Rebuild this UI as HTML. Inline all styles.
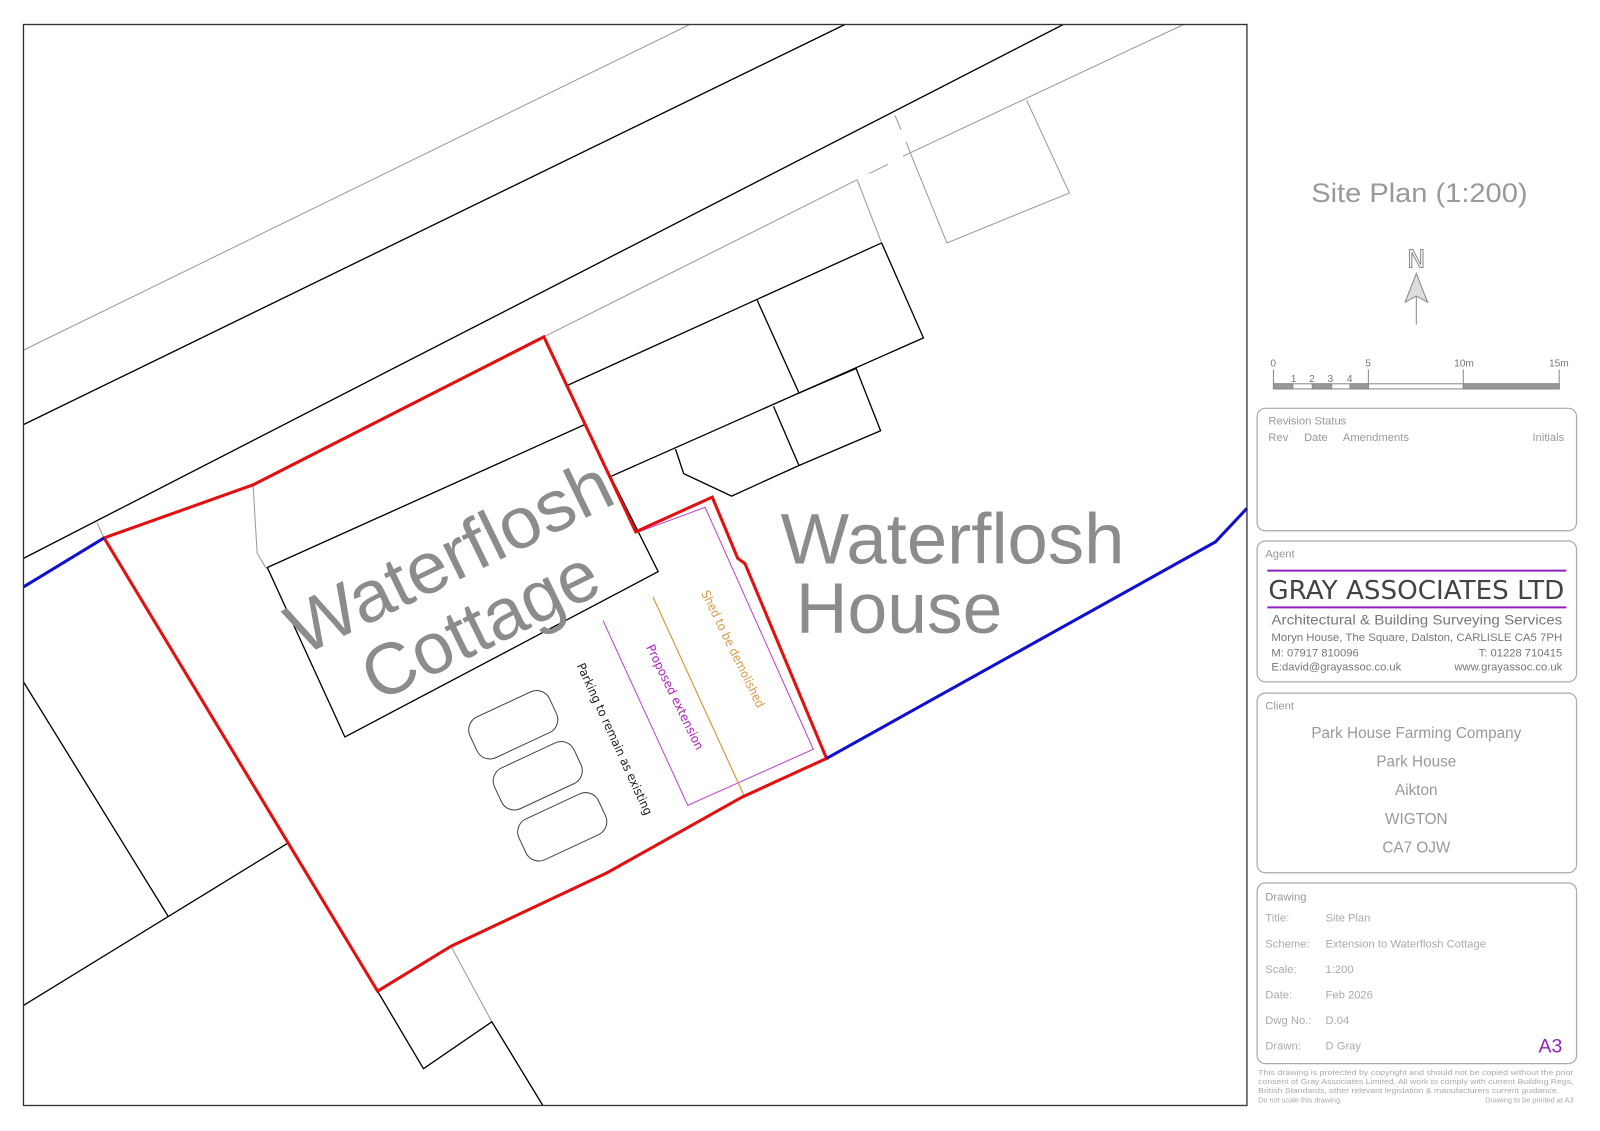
<!DOCTYPE html>
<html><head><meta charset="utf-8"><style>
html,body{margin:0;padding:0;background:#fff;}
svg{display:block;}
text{font-family:"Liberation Sans",sans-serif;}
.dj{font-family:"DejaVu Sans","Liberation Sans",sans-serif;}
</style></head><body>
<svg width="1600" height="1131" viewBox="0 0 1568 1108" preserveAspectRatio="none" xmlns="http://www.w3.org/2000/svg">
<rect x="0" y="0" width="1568" height="1108" fill="#fff"/>
<g stroke="#999" stroke-width="1" fill="none">
<line x1="23" y1="343" x2="676" y2="24"/>
<line x1="535" y1="329" x2="840" y2="176"/>
<line x1="840" y1="176" x2="864" y2="238"/>
<line x1="852" y1="170" x2="870" y2="161" />
<line x1="885" y1="153" x2="1160" y2="24"/>
<polyline points="1006,98 1048,189 928,238 893,152"/>
<line x1="877" y1="113" x2="883" y2="127"/>
<line x1="888" y1="139" x2="893" y2="152"/>
<polyline points="248,475 252,542 261,557"/>
<line x1="95" y1="512" x2="102" y2="527"/>
<line x1="442" y1="927" x2="482" y2="1001"/>
</g>
<g stroke="#000" stroke-width="1.3" fill="none">
<line x1="23" y1="416" x2="828" y2="24"/>
<line x1="23" y1="547" x2="1042" y2="24"/>
<line x1="555" y1="378" x2="864" y2="238"/>
<polyline points="864,238 905,331 783,385"/>
<line x1="742" y1="294" x2="783" y2="385"/>
<polyline points="598,467 783,385 839,361 863,422 783,456 717,486 670,464 662,440"/>
<line x1="758" y1="398" x2="783" y2="456"/>
<polygon points="262,556 573,416 645,560 338,722"/>
<line x1="23" y1="668" x2="165" y2="898"/>
<line x1="23" y1="985" x2="282" y2="826"/>
<polyline points="370,971 415,1047 482,1001 532,1083"/>
</g>
<polyline points="623,522 691,497 797,734 674,789 591,608" fill="none" stroke="#c040d0" stroke-width="1"/>
<line x1="640" y1="585" x2="729" y2="779" stroke="#d89a40" stroke-width="1.2"/>
<polygon points="102,527 248,475 533,330 623,521 698,487 723,547 730,552 810,743 727,781 595,855 442,927 370,971" fill="none" stroke="#e31010" stroke-width="3"/>
<polyline points="23,575 102,527" fill="none" stroke="#1010d0" stroke-width="3"/>
<polyline points="810,743 1191,531 1222,498" fill="none" stroke="#1010d0" stroke-width="3"/>
<rect x="23" y="24" width="1199" height="1059" fill="none" stroke="#333" stroke-width="1.3"/>
<g fill="none" stroke="#444" stroke-width="1">
<rect x="-43" y="-22" width="86" height="44" rx="14" transform="translate(503,710) rotate(-25)"/>
<rect x="-43" y="-22" width="86" height="44" rx="14" transform="translate(527,760) rotate(-25)"/>
<rect x="-43" y="-22" width="86" height="44" rx="14" transform="translate(551,810) rotate(-25)"/>
</g>
<g transform="translate(440,545) rotate(-26)" fill="#8c8c8c" font-size="71">
<text x="0" y="25" text-anchor="middle" textLength="345" lengthAdjust="spacingAndGlyphs">Waterflosh</text>
<text x="-2" y="98" text-anchor="middle">Cottage</text>
</g>
<text x="765" y="552" fill="#8c8c8c" font-size="70" textLength="337" lengthAdjust="spacingAndGlyphs">Waterflosh</text>
<text x="780" y="620" fill="#8c8c8c" font-size="70">House</text>
<text class="dj" transform="translate(565,652) rotate(65.5)" font-size="12" fill="#222" textLength="162" lengthAdjust="spacingAndGlyphs">Parking to remain as existing</text>
<text class="dj" transform="translate(633,634) rotate(64)" font-size="12" fill="#b020c0" textLength="113" lengthAdjust="spacingAndGlyphs">Proposed extension</text>
<text class="dj" transform="translate(687,581) rotate(64)" font-size="12" fill="#d89a40" textLength="126" lengthAdjust="spacingAndGlyphs">Shed to be demolished</text>
<text x="1391" y="198" text-anchor="middle" font-size="26" fill="#999" textLength="212" lengthAdjust="spacingAndGlyphs">Site Plan (1:200)</text>
<text class="dj" x="1388" y="262" text-anchor="middle" font-size="24" fill="#fff" stroke="#888" stroke-width="1">N</text>
<line x1="1388" y1="268" x2="1388" y2="318" stroke="#888" stroke-width="1"/>
<polygon points="1388,268 1377,296 1388,290 1399,296" fill="#ddd" stroke="#888" stroke-width="1"/>
<g stroke="#888" stroke-width="1">
<rect x="1248" y="376" width="280" height="5" fill="#fff"/>
<rect x="1248" y="376" width="19" height="5" fill="#999"/>
<rect x="1286" y="376" width="19" height="5" fill="#999"/>
<rect x="1323" y="376" width="18" height="5" fill="#999"/>
<rect x="1434" y="376" width="94" height="5" fill="#999"/>
<line x1="1248" y1="362" x2="1248" y2="381"/>
<line x1="1341" y1="362" x2="1341" y2="381"/>
<line x1="1434" y1="362" x2="1434" y2="381"/>
<line x1="1528" y1="362" x2="1528" y2="381"/>
</g>
<g class="dj" font-size="10" fill="#777">
<text x="1245" y="359">0</text><text x="1338" y="359">5</text><text x="1425" y="359">10m</text><text x="1518" y="359">15m</text>
<text x="1265" y="374">1</text><text x="1283" y="374">2</text><text x="1301" y="374">3</text><text x="1320" y="374">4</text>
</g>
<g fill="none" stroke="#aaa" stroke-width="1.2">
<rect x="1232" y="400" width="313" height="120" rx="8"/>
<rect x="1232" y="530" width="313" height="138" rx="8"/>
<rect x="1232" y="679" width="313" height="176" rx="8"/>
<rect x="1232" y="865" width="313" height="177" rx="8"/>
</g>
<g font-size="11" fill="#999">
<text x="1243" y="416">Revision Status</text>
<text x="1243" y="432">Rev</text><text x="1278" y="432">Date</text><text x="1316" y="432">Amendments</text>
<text x="1533" y="432" text-anchor="end">Initials</text>
<text x="1240" y="546">Agent</text>
<text x="1240" y="695">Client</text>
<text x="1240" y="882">Drawing</text>
</g>
<line x1="1242" y1="559" x2="1535" y2="559" stroke="#9020c0" stroke-width="2"/>
<line x1="1242" y1="595" x2="1535" y2="595" stroke="#9020c0" stroke-width="2"/>
<text class="dj" x="1243" y="587" font-size="25" fill="#444" textLength="290" lengthAdjust="spacingAndGlyphs">GRAY ASSOCIATES LTD</text>
<g class="dj" fill="#777">
<text x="1246" y="612" font-size="14" textLength="285" lengthAdjust="spacingAndGlyphs">Architectural &amp; Building Surveying Services</text>
<text x="1246" y="628" font-size="11" textLength="285" lengthAdjust="spacingAndGlyphs">Moryn House, The Square, Dalston, CARLISLE CA5 7PH</text>
<text x="1246" y="643" font-size="11">M: 07917 810096</text>
<text x="1531" y="643" font-size="11" text-anchor="end">T: 01228 710415</text>
<text x="1246" y="657" font-size="11">E:david@grayassoc.co.uk</text>
<text x="1531" y="657" font-size="11" text-anchor="end">www.grayassoc.co.uk</text>
</g>
<g font-size="15" fill="#999" text-anchor="middle">
<text x="1388" y="723">Park House Farming Company</text>
<text x="1388" y="751">Park House</text>
<text x="1388" y="779">Aikton</text>
<text x="1388" y="807">WIGTON</text>
<text x="1388" y="835">CA7 OJW</text>
</g>
<g font-size="11" fill="#aaa">
<text x="1240" y="903">Title:</text><text x="1299" y="903">Site Plan</text>
<text x="1240" y="928">Scheme:</text><text x="1299" y="928">Extension to Waterflosh Cottage</text>
<text x="1240" y="953">Scale:</text><text x="1299" y="953">1:200</text>
<text x="1240" y="978">Date:</text><text x="1299" y="978">Feb 2026</text>
<text x="1240" y="1003">Dwg No.:</text><text x="1299" y="1003">D.04</text>
<text x="1240" y="1028">Drawn:</text><text x="1299" y="1028">D Gray</text>
</g>
<text x="1531" y="1031" font-size="19" fill="#9020c0" text-anchor="end">A3</text>
<g font-size="7.2" fill="#aaa">
<text x="1233" y="1053" textLength="309" lengthAdjust="spacingAndGlyphs">This drawing is protected by copyright and should not be copied without the prior</text>
<text x="1233" y="1062" textLength="309" lengthAdjust="spacingAndGlyphs">consent of Gray Associates Limited. All work to comply with current Building Regs,</text>
<text x="1233" y="1071" textLength="295" lengthAdjust="spacingAndGlyphs">British Standards, other relevant legislation &amp; manufacturers current guidance.</text>
<text x="1233" y="1080">Do not scale this drawing.</text>
<text x="1542" y="1080" text-anchor="end">Drawing to be printed at A3</text>
</g>
</svg>
</body></html>
